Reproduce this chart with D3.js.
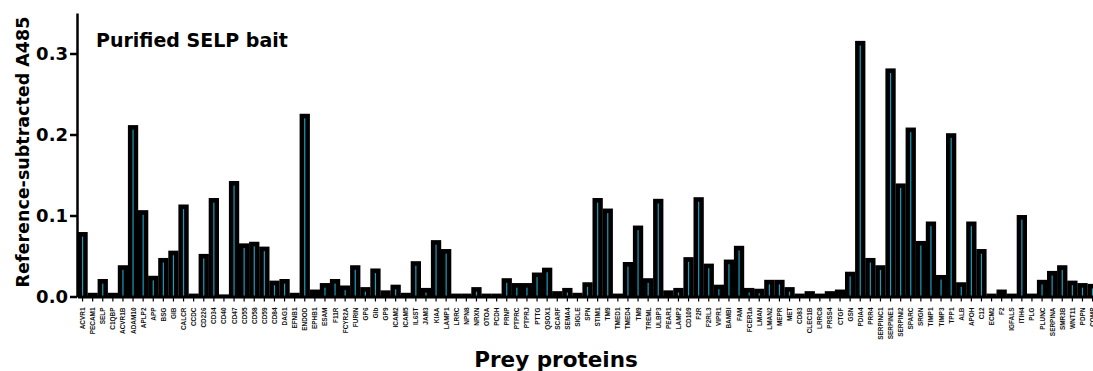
<!DOCTYPE html>
<html>
<head>
<meta charset="utf-8">
<script src="https://cdn.jsdelivr.net/npm/d3@7"></script>
<style>
  body { margin: 0; background: #fff; }
  svg { display: block; }
</style>
</head>
<body>
<div id="chart"></div>
<script>
// ─── Data ───
const proteins = [
  "ACVR1","PECAM1","SELP","C1QBP","ACVR1B","ADAM10","APLP2","APP","BSG","GIB",
  "CALCR","CCDC","CD226","CD34","CD40","CD47","CD55","CD58","CD59","CD84",
  "DAG1","EFNB1","ENDOD","EPHB1","ESAM","F11R","FCYR2A","FURIN","GP6","GIb",
  "GP9","ICAM2","ICAM5","IL6ST","JAM3","KIAA","LAMP1","LRRC","NPN8","NRXN",
  "OTOA","PCDH","PRNP","PTPRC","PTPRJ","PTTG","QSOX1","SCARF","SEMA4","SIGLE",
  "SPN","STIM1","TM9","TMED1","TMED4","TM9 ","TREML","ULBP3","PEAR1","LAMP2",
  "CD109","F2R","F2RL3","VIPR1","BAMBI","FAM","FCER1a","LMAN","LMAN2","MEPR",
  "MET","CD83","CLEC1B","LRRC8","PRSS4","CTGF","GSN","PDIA4","PRR4","SERPINC1",
  "SERPINE1","SERPINI2","SPARC","SRGN","TIMP1","TIMP3","TPP1","ALB","APOH","C12",
  "ECM2","F2","IGFALS","ITIH4","PLG","PLUNC","SERPINA","SMR3B","WNT11","PDPN",
  "COMP"
];
const a485 = [
  0.077, 0.002, 0.019, 0.002, 0.036, 0.209, 0.104, 0.023, 0.045, 0.054,
  0.111, 0.001, 0.050, 0.119, 0.000, 0.140, 0.063, 0.065, 0.059, 0.017,
  0.019, 0.002, 0.223, 0.006, 0.014, 0.019, 0.011, 0.036, 0.009, 0.032,
  0.005, 0.012, 0.002, 0.041, 0.008, 0.067, 0.056, 0.001, 0.001, 0.009,
  0.001, 0.001, 0.020, 0.014, 0.014, 0.027, 0.033, 0.004, 0.008, 0.002,
  0.015, 0.119, 0.106, 0.001, 0.040, 0.085, 0.020, 0.118, 0.005, 0.008,
  0.046, 0.120, 0.038, 0.012, 0.043, 0.060, 0.008, 0.007, 0.018, 0.018,
  0.009, 0.001, 0.004, 0.001, 0.004, 0.006, 0.028, 0.313, 0.045, 0.036,
  0.279, 0.137, 0.206, 0.066, 0.090, 0.024, 0.199, 0.015, 0.090, 0.056,
  0.001, 0.006, 0.001, 0.098, 0.001, 0.018, 0.029, 0.036, 0.017, 0.014,
  0.013
];
const yTicks = [0, 0.1, 0.2, 0.3];

const rows = proteins.map((p, i) => ({ name: p, value: a485[i] }));

const width = 1093, height = 371;
const bold = "'DejaVu Sans', Verdana, sans-serif";
const svg = d3.select("#chart").append("svg")
  .attr("width", width).attr("height", height);

const step = 10.1;
const x = d3.scaleBand()
  .domain(proteins)
  .range([77.5, 77.5 + step * proteins.length])
  .padding(0);
const y = d3.scaleLinear().domain([0, 0.35]).range([296.5, 13]);

// ─── Bars ───
const bars = svg.append("g");
bars.selectAll("rect.bar")
  .data(rows).enter().append("rect")
    .attr("class", "bar")
    .attr("x", d => x(d.name) + 1)
    .attr("width", x.bandwidth() - 2)
    .attr("y", d => y(d.value) - 1)
    .attr("height", d => y(0) - y(d.value) + 1)
    .attr("fill", "#000")
    .attr("stroke", "#000")
    .attr("stroke-width", 2.2);

bars.selectAll("rect.core")
  .data(rows.filter(d => y(0) - y(d.value) > 5)).enter().append("rect")
    .attr("class", "core")
    .attr("x", d => x(d.name) + x.bandwidth() / 2 - 0.6)
    .attr("width", 1.2)
    .attr("y", d => y(d.value) + 2.5)
    .attr("height", d => y(0) - y(d.value) - 3)
    .attr("fill", "#1a9cbb");

// ─── Axes ───
const yAxis = svg.append("g")
  .attr("transform", "translate(77,0)")
  .call(d3.axisLeft(y).tickValues(yTicks).tickFormat(d3.format(".1f"))
    .tickSize(7).tickSizeOuter(0).tickPadding(2));
yAxis.select(".domain").attr("stroke-width", 2.5);
yAxis.selectAll(".tick line").attr("stroke-width", 2.5);
yAxis.selectAll(".tick text")
  .attr("font-family", bold)
  .attr("font-weight", "bold")
  .attr("font-size", 18)
  .attr("fill", "#000");

const xAxis = svg.append("g")
  .attr("transform", `translate(0,${y(0)})`)
  .call(d3.axisBottom(x).tickSize(5).tickSizeOuter(0).tickPadding(3));
xAxis.select(".domain").attr("stroke-width", 3);
xAxis.selectAll(".tick line").attr("stroke-width", 1.2);
xAxis.selectAll(".tick text")
  .attr("font-family", "'Liberation Sans Narrow', 'Arial Narrow', Arial, sans-serif")
  .attr("font-weight", "bold")
  .attr("font-size", 7)
  .attr("fill", "#111")
  .attr("text-anchor", "end")
  .attr("transform", "rotate(-90) scale(0.92,1)")
  .attr("x", -12)
  .attr("y", 0)
  .attr("dy", "0.35em");

// ─── Titles ───
svg.append("text")
  .attr("x", 96).attr("y", 47)
  .attr("font-family", bold)
  .attr("font-weight", "bold")
  .attr("font-size", 19)
  .text("Purified SELP bait");

svg.append("text")
  .attr("transform", "translate(29,152) rotate(-90)")
  .attr("text-anchor", "middle")
  .attr("font-family", bold)
  .attr("font-weight", "bold")
  .attr("font-size", 17.5)
  .text("Reference-subtracted A485");

svg.append("text")
  .attr("x", 556).attr("y", 367)
  .attr("text-anchor", "middle")
  .attr("font-family", bold)
  .attr("font-weight", "bold")
  .attr("font-size", 21.5)
  .text("Prey proteins");
</script>
</body>
</html>
